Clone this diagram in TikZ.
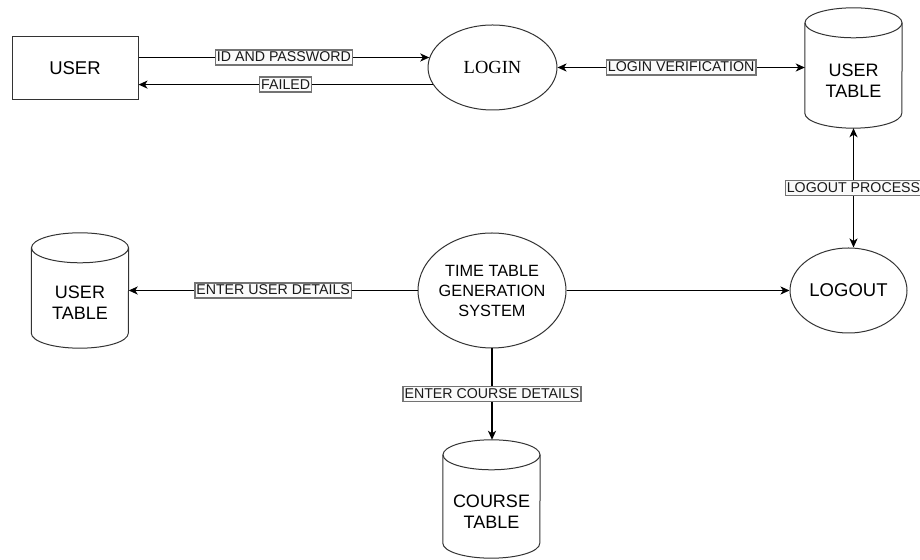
\documentclass[tikz,border=0pt]{standalone}
\usepackage{fontspec}
\setmainfont{Liberation Sans}
\newfontfamily\seriffont{Liberation Serif}
\usetikzlibrary{arrows.meta,shapes.geometric}

% outline of a database cylinder around a named box node
\newcommand{\dbcylinder}[1]{%
  \draw[outline] ([yshift=-15pt]#1.north west) -- ([yshift=15pt]#1.south west)
    arc[start angle=180, end angle=360, x radius=48.5pt, y radius=15pt]
    -- ([yshift=-15pt]#1.north east);
  \draw[outline] ([yshift=-15pt]#1.north) ellipse[x radius=48.5pt, y radius=15pt];
}

\begin{document}
\begin{tikzpicture}[x=1pt, y=1pt,
  outline/.style={draw=black!80, line width=1pt},
  proc/.style={ellipse, outline, inner sep=0pt},
  entity/.style={rectangle, outline, minimum width=126pt, minimum height=63pt,
    font=\fontsize{18.5}{21}\selectfont},
  dbbox/.style={rectangle, draw=none, minimum width=97pt, inner sep=0pt},
  dbtext/.style={align=center, font=\fontsize{18}{21}\selectfont, inner sep=0pt},
  flow/.style={line width=1.5pt, -{Stealth[length=9pt, width=8pt, inset=2.5pt]}},
  biflow/.style={line width=1.5pt,
    {Stealth[length=9pt, width=8pt, inset=2.5pt]}-{Stealth[length=9pt, width=8pt, inset=2.5pt]}},
  tag/.style={draw=black!55, fill=black!2, text=black!90,
    font=\fontsize{14.2}{16}\selectfont, inner xsep=1.5pt, inner ysep=2pt,
    text height=10pt, text depth=1pt}
]
\useasboundingbox (0,0) rectangle (920,559);

% entities and processes
\node[entity] (user) at (75,490.5) {USER};
\node[proc, minimum width=129pt, minimum height=85pt,
  font=\seriffont\fontsize{18.5}{21}\selectfont] (login) at (492.5,491.5) {LOGIN};
\node[proc, minimum width=117pt, minimum height=85pt,
  font=\fontsize{18.5}{21}\selectfont] (logout) at (848.5,268.5) {LOGOUT};
\node[proc, minimum width=148pt, minimum height=115pt] (ttgs) at (492,268.5) {};
\node[align=center, inner sep=0pt, font=\fontsize{16.3}{20}\selectfont]
  (ttgstext) at (ttgs.center) {TIME TABLE\\GENERATION\\SYSTEM};

% data stores
\node[dbbox, minimum height=120pt] (utable) at (853.5,491) {};
\dbcylinder{utable}
\node[dbtext] (utabletext) at ([yshift=-13pt]utable.center) {USER\\TABLE};

\node[dbbox, minimum height=115pt] (ltable) at (80,268.5) {};
\dbcylinder{ltable}
\node[dbtext] (ltabletext) at ([yshift=-12pt]ltable.center) {USER\\TABLE};

\node[dbbox, minimum height=118pt] (ctable) at (491.5,60) {};
\dbcylinder{ctable}
\node[dbtext] (ctabletext) at ([yshift=-13pt]ctable.center) {COURSE\\TABLE};

% data flows
\draw[flow] (login.171 -| user.east) -- (login.171)
  node[tag, midway] (l1) {ID AND PASSWORD};
\draw[flow] (login.196) -- (login.196 -| user.east)
  node[tag, midway] (l2) {FAILED};
\draw[biflow] (login.east) -- (login.east -| utable.west)
  node[tag, midway] (l3) {LOGIN VERIFICATION};
\draw[biflow] (utable.south) -- (utable.south |- logout.north)
  node[tag, midway] (l4) {LOGOUT PROCESS};
\draw[flow] (ttgs.east) -- (logout.west);
\draw[flow] (ttgs.west) -- (ltable.east)
  node[tag, midway] (l5) {ENTER USER DETAILS};
\draw[flow] (ttgs.south) -- (ttgs.south |- ctable.north)
  node[tag, midway] (l6) {ENTER COURSE DETAILS};
\end{tikzpicture}
\end{document}
